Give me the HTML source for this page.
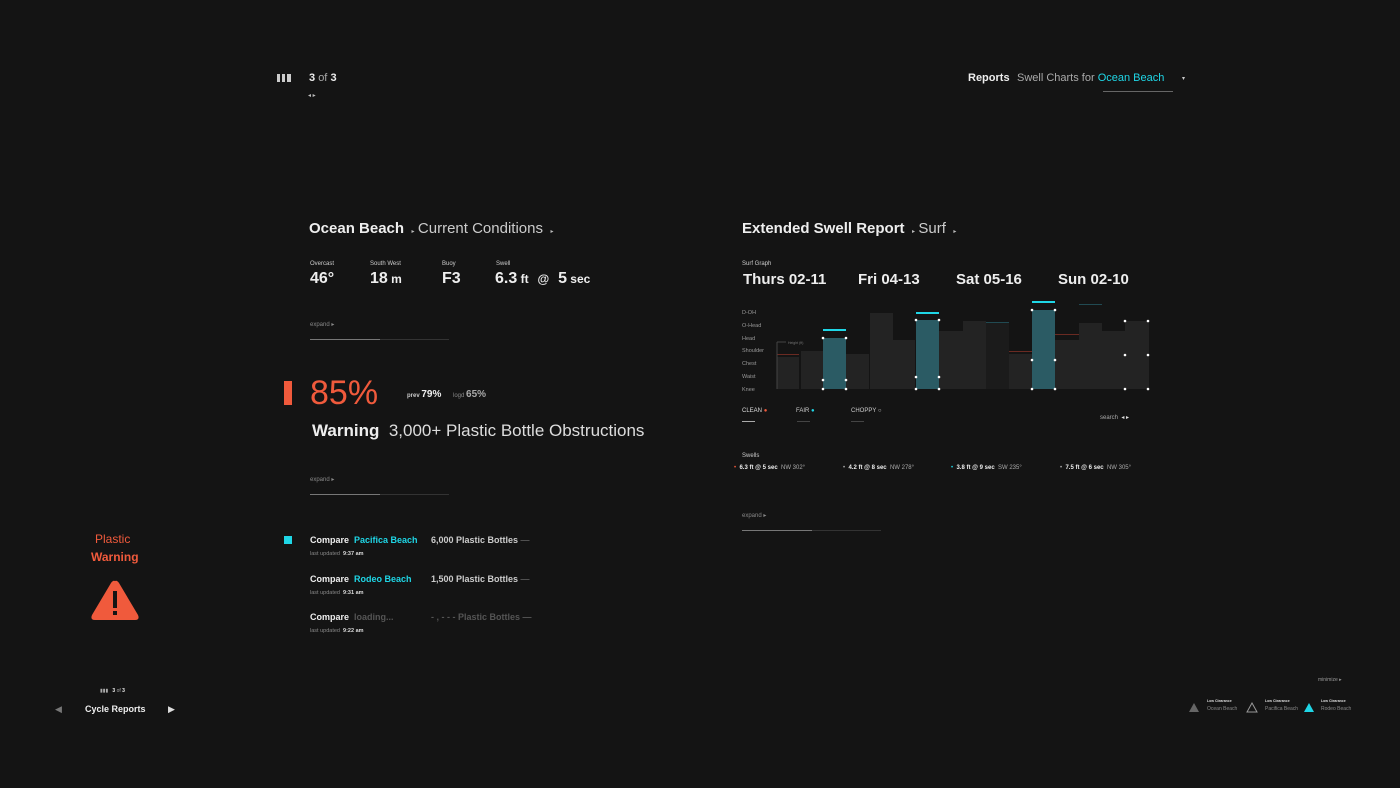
<!DOCTYPE html>
<html><head><meta charset="utf-8"><style>
*{margin:0;padding:0;box-sizing:border-box}
body{width:1400px;height:788px;background:#141414;position:relative;overflow:hidden;font-family:"Liberation Sans",Arial,sans-serif;color:#eee}
.a{position:absolute;line-height:1;white-space:nowrap}
.b{font-weight:bold}
.g{color:#aaa}
.o{color:#f05a3c}
.c{color:#1fd6e6}
.s{font-size:6px;color:#888}
.ln{position:absolute;height:1px;background:#333}
.lh{position:absolute;height:2px;background:#666}
</style></head><body>

<!-- top bar -->
<div class="a" style="left:277px;top:74px;width:3px;height:8px;background:#ccc"></div>
<div class="a" style="left:282px;top:74px;width:3px;height:8px;background:#ccc"></div>
<div class="a" style="left:287px;top:74px;width:4px;height:8px;background:#ccc"></div>
<div class="a" style="left:309px;top:73px;font-size:11px"><b>3</b> <span class="g">of</span> <b>3</b></div>
<div class="a" style="left:308px;top:93px;font-size:6px;color:#bbb">◂ ▸</div>

<div class="a b" style="left:968px;top:73px;font-size:11px">Reports</div>
<div class="a g" style="left:1017px;top:73px;font-size:11px">Swell Charts for <span class="c">Ocean Beach</span></div>
<div class="ln" style="left:1103px;top:91px;width:70px;background:#666"></div>
<div class="a" style="left:1182px;top:76px;font-size:6px;color:#ccc">▾</div>

<!-- left section -->
<div class="a" style="left:309px;top:221px;font-size:15px"><b>Ocean Beach</b> <span style="font-size:6px;color:#bbb">&nbsp;&nbsp;▸&nbsp;&nbsp;</span><span style="color:#ccc">Current Conditions</span> <span style="font-size:6px;color:#bbb">&nbsp;&nbsp;▸</span></div>

<div class="a" style="left:310px;top:261px;font-size:6px;color:#ccc">Overcast</div>
<div class="a" style="left:370px;top:261px;font-size:6px;color:#ccc">South West</div>
<div class="a" style="left:442px;top:261px;font-size:6px;color:#ccc">Buoy</div>
<div class="a" style="left:496px;top:261px;font-size:6px;color:#ccc">Swell</div>
<div class="a b" style="left:310px;top:271px;font-size:16px">46°</div>
<div class="a b" style="left:370px;top:271px;font-size:16px">18<span style="font-size:12px"> m</span></div>
<div class="a b" style="left:442px;top:271px;font-size:16px">F3</div>
<div class="a b" style="left:495px;top:271px;font-size:16px">6.3<span style="font-size:12px"> ft</span> &nbsp;<span style="font-size:12px">@</span>&nbsp; 5<span style="font-size:12px"> sec</span></div>

<div class="a s" style="left:310px;top:322px">expand ▸</div>
<div class="ln" style="left:310px;top:339px;width:139px"></div>
<div class="lh" style="left:310px;top:339px;width:70px;height:1px;background:#777"></div>

<div class="a" style="left:284px;top:381px;width:8px;height:24px;background:#f05a3c"></div>
<div class="a o" style="left:310px;top:376px;font-size:34px">85%</div>
<div class="a b" style="left:407px;top:390px;font-size:6px;color:#ccc">prev <span style="font-size:10px;color:#eee">79%</span></div>
<div class="a" style="left:453px;top:390px;font-size:6px;color:#888">logd <span style="font-size:10px;color:#aaa;font-weight:bold">65%</span></div>
<div class="a" style="left:312px;top:422px;font-size:17px"><b>Warning</b>&nbsp; <span style="color:#ddd">3,000+ Plastic Bottle Obstructions</span></div>

<div class="a s" style="left:310px;top:477px">expand ▸</div>
<div class="ln" style="left:310px;top:494px;width:139px"></div>
<div class="lh" style="left:310px;top:494px;width:70px;height:1px;background:#777"></div>

<div class="a" style="left:284px;top:536px;width:8px;height:8px;background:#1fd6e6"></div>
<div class="a b" style="left:310px;top:536px;font-size:9px">Compare&nbsp; <span class="c">Pacifica Beach</span></div>
<div class="a b" style="left:431px;top:536px;font-size:9px;color:#ccc">6,000 Plastic Bottles <span style="color:#555">—</span></div>
<div class="a" style="left:310px;top:552px;font-size:5.5px;color:#888">last updated &nbsp;<b style="color:#ddd">9:37 am</b></div>
<div class="a b" style="left:310px;top:575px;font-size:9px">Compare&nbsp; <span class="c">Rodeo Beach</span></div>
<div class="a b" style="left:431px;top:575px;font-size:9px;color:#ccc">1,500 Plastic Bottles <span style="color:#555">—</span></div>
<div class="a" style="left:310px;top:591px;font-size:5.5px;color:#888">last updated &nbsp;<b style="color:#ddd">9:31 am</b></div>
<div class="a b" style="left:310px;top:613px;font-size:9px">Compare&nbsp; <span style="color:#555">loading...</span></div>
<div class="a b" style="left:431px;top:613px;font-size:9px;color:#555">- , - - - Plastic Bottles —</div>
<div class="a" style="left:310px;top:629px;font-size:5.5px;color:#888">last updated &nbsp;<b style="color:#ddd">9:22 am</b></div>

<!-- left sidebar -->
<div class="a o" style="left:95px;top:533px;font-size:12px">Plastic</div>
<div class="a o b" style="left:91px;top:551px;font-size:12px">Warning</div>
<svg class="a" style="left:89px;top:578px" width="52" height="44" viewBox="0 0 52 44"><path d="M26 3 Q28 2 30 5 L49 37 Q51 42 46 42 L6 42 Q1 42 3 37 L22 5 Q24 2 26 3Z" fill="#f05a3c"/><rect x="24" y="13" width="4" height="17" fill="#141414"/><rect x="24" y="33" width="4" height="4" fill="#141414"/></svg>
<div class="a" style="left:100px;top:689px;font-size:5px;color:#aaa">▮▮▮ &nbsp; <b style="color:#eee">3</b> of <b style="color:#eee">3</b></div>
<div class="a" style="left:55px;top:705px;font-size:9px;color:#777">◀</div>
<div class="a b" style="left:85px;top:705px;font-size:9px">Cycle Reports</div>
<div class="a" style="left:168px;top:705px;font-size:9px;color:#ddd">▶</div>

<!-- right section -->
<div class="a" style="left:742px;top:221px;font-size:15px"><b>Extended Swell Report</b> <span style="font-size:6px;color:#bbb">&nbsp;&nbsp;▸&nbsp;&nbsp;</span><span style="color:#ccc">Surf</span> <span style="font-size:6px;color:#bbb">&nbsp;&nbsp;▸</span></div>
<div class="a" style="left:742px;top:261px;font-size:6px;color:#ccc">Surf Graph</div>
<div class="a b" style="left:743px;top:272px;font-size:15px">Thurs 02-11</div>
<div class="a b" style="left:858px;top:272px;font-size:15px">Fri 04-13</div>
<div class="a b" style="left:956px;top:272px;font-size:15px">Sat 05-16</div>
<div class="a b" style="left:1058px;top:272px;font-size:15px">Sun 02-10</div>

<div class="a" style="left:742px;top:307px;font-size:5.5px;color:#999;line-height:12.8px">D-OH<br>O-Head<br>Head<br>Shoulder<br>Chest<br>Waist<br>Knee</div>

<svg class="a" style="left:0;top:0" width="1400" height="788">
<g fill="#232323">
<rect x="777" y="357" width="22" height="32"/>
<rect x="801" y="351" width="22" height="38"/>
<rect x="846" y="354" width="23" height="35"/>
<rect x="870" y="313" width="23" height="76"/>
<rect x="893" y="340" width="22" height="49"/>
<rect x="939" y="331" width="24" height="58"/>
<rect x="963" y="321" width="23" height="68"/>
<rect x="986" y="323" width="23" height="66" fill="#1b1b1b"/>
<rect x="1009" y="354" width="23" height="35"/>
<rect x="1055" y="340" width="24" height="49"/>
<rect x="1079" y="323" width="23" height="66"/>
<rect x="1102" y="331" width="23" height="58"/>
<rect x="1125" y="321" width="24" height="68"/>
</g>
<g fill="#2b5b64"><rect x="823" y="338" width="23" height="51"/><rect x="916" y="320" width="23" height="69"/><rect x="1032" y="310" width="23" height="79"/></g>
<g fill="#1fd6e6"><rect x="823" y="329" width="23" height="2"/><rect x="916" y="312" width="23" height="2"/><rect x="1032" y="301" width="23" height="2"/></g>
<g fill="#6a2a22"><rect x="777" y="354" width="22" height="1"/><rect x="1009" y="351" width="23" height="1"/><rect x="1055" y="334" width="24" height="1"/></g>
<g fill="#214a52"><rect x="986" y="322" width="23" height="1"/><rect x="1079" y="304" width="23" height="1"/></g>
<line x1="777" y1="342" x2="777" y2="389" stroke="#444"/>
<line x1="777" y1="342" x2="786" y2="342" stroke="#444"/>
<text x="788" y="344" font-size="3.5" fill="#777" font-family="Liberation Sans">Height (ft)</text>
<g fill="#fff">
<circle cx="823" cy="338" r="1.3"/><circle cx="846" cy="338" r="1.3"/><circle cx="823" cy="380" r="1.3"/><circle cx="846" cy="380" r="1.3"/><circle cx="823" cy="389" r="1.3"/><circle cx="846" cy="389" r="1.3"/>
<circle cx="916" cy="320" r="1.3"/><circle cx="939" cy="320" r="1.3"/><circle cx="916" cy="377" r="1.3"/><circle cx="939" cy="377" r="1.3"/><circle cx="916" cy="389" r="1.3"/><circle cx="939" cy="389" r="1.3"/>
<circle cx="1032" cy="310" r="1.3"/><circle cx="1055" cy="310" r="1.3"/><circle cx="1032" cy="360" r="1.3"/><circle cx="1055" cy="360" r="1.3"/><circle cx="1032" cy="389" r="1.3"/><circle cx="1055" cy="389" r="1.3"/>
<circle cx="1125" cy="321" r="1.3"/><circle cx="1148" cy="321" r="1.3"/><circle cx="1125" cy="355" r="1.3"/><circle cx="1148" cy="355" r="1.3"/><circle cx="1125" cy="389" r="1.3"/><circle cx="1148" cy="389" r="1.3"/>
</g>
</svg>

<div class="a" style="left:742px;top:408px;font-size:6px;color:#ddd">CLEAN <span class="o">●</span></div>
<div class="a" style="left:796px;top:408px;font-size:6px;color:#ccc">FAIR <span class="c">●</span></div>
<div class="a" style="left:851px;top:408px;font-size:6px;color:#ccc">CHOPPY <span>○</span></div>
<div class="lh" style="left:742px;top:421px;width:13px;height:1px;background:#aaa"></div>
<div class="lh" style="left:797px;top:421px;width:13px;height:1px;background:#444"></div>
<div class="lh" style="left:851px;top:421px;width:13px;height:1px;background:#444"></div>
<div class="a" style="left:1100px;top:415px;font-size:6px;color:#aaa">search &nbsp;<span style="color:#ddd">◂ ▸</span></div>

<div class="a" style="left:742px;top:453px;font-size:6px;color:#ccc">Swells</div>
<div class="a" style="left:734px;top:465px;font-size:6px;color:#aaa"><span class="o">•</span> &nbsp;<b style="color:#eee">6.3 ft @ 5 sec</b> &nbsp;NW 302°</div>
<div class="a" style="left:843px;top:465px;font-size:6px;color:#aaa">• &nbsp;<b style="color:#eee">4.2 ft @ 8 sec</b> &nbsp;NW 278°</div>
<div class="a" style="left:951px;top:465px;font-size:6px;color:#aaa"><span class="c">•</span> &nbsp;<b style="color:#eee">3.8 ft @ 9 sec</b> &nbsp;SW 235°</div>
<div class="a" style="left:1060px;top:465px;font-size:6px;color:#aaa">• &nbsp;<b style="color:#eee">7.5 ft @ 6 sec</b> &nbsp;NW 305°</div>

<div class="a s" style="left:742px;top:513px">expand ▸</div>
<div class="ln" style="left:742px;top:530px;width:139px"></div>
<div class="lh" style="left:742px;top:530px;width:70px;height:1px;background:#777"></div>

<!-- bottom right -->
<div class="a" style="left:1318px;top:678px;font-size:5px;color:#999">minimize ▸</div>
<svg class="a" style="left:1188px;top:702px" width="12" height="11"><path d="M6 1 L11 10 L1 10Z" fill="#666"/></svg>
<div class="a b" style="left:1207px;top:700px;font-size:3.5px;color:#ddd">Low Clearance</div>
<div class="a" style="left:1207px;top:707px;font-size:5px;color:#888">Ocean Beach</div>
<svg class="a" style="left:1246px;top:702px" width="12" height="11"><path d="M6 1 L11 10 L1 10Z" fill="none" stroke="#999"/></svg>
<div class="a b" style="left:1265px;top:700px;font-size:3.5px;color:#ddd">Low Clearance</div>
<div class="a" style="left:1265px;top:707px;font-size:5px;color:#888">Pacifica Beach</div>
<svg class="a" style="left:1303px;top:702px" width="12" height="11"><path d="M6 1 L11 10 L1 10Z" fill="#1fd6e6"/></svg>
<div class="a b" style="left:1321px;top:700px;font-size:3.5px;color:#ddd">Low Clearance</div>
<div class="a" style="left:1321px;top:707px;font-size:5px;color:#888">Rodeo Beach</div>
</body></html>
